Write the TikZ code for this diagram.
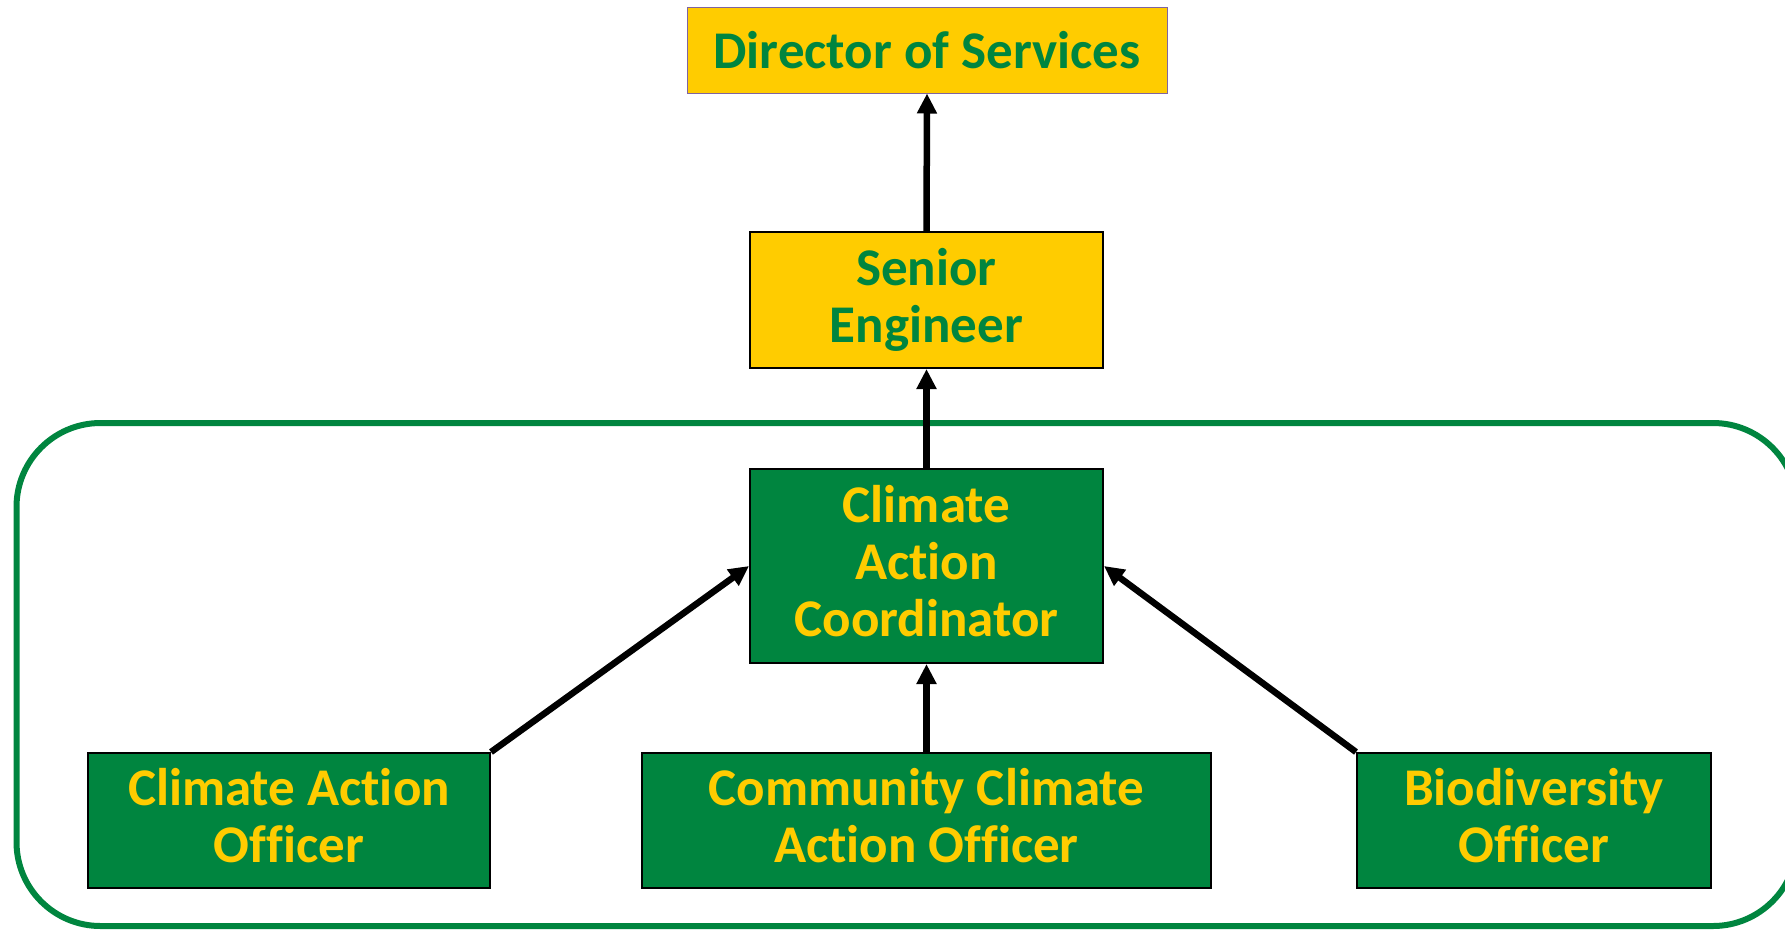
\documentclass[tikz,border=0pt]{standalone}
\usepackage{fontspec}
\setmainfont{Carlito}[Ligatures={NoCommon,NoRequired,NoContextual}]
\usetikzlibrary{arrows.meta}
\definecolor{ygold}{HTML}{FFCC00}
\definecolor{dgreen}{HTML}{00853F}
\definecolor{bpurple}{HTML}{7F64A0}
\newcommand{\lowstrut}{\rule[-10pt]{0pt}{10pt}}
\tikzset{
  boxbase/.style={rectangle, align=center, inner sep=0pt,
    font=\fontsize{53}{57}\selectfont\bfseries},
  ybox/.style={boxbase, fill=ygold, text=dgreen, draw=black, line width=2pt},
  gbox/.style={boxbase, fill=dgreen, text=ygold, draw=black, line width=2pt},
  arr/.style={line width=6.5pt, -{Triangle[length=20pt, width=19pt]}},
  frame/.style={draw=dgreen, line width=6pt, rounded corners=84pt}
}
\begin{document}
\begin{tikzpicture}[x=1pt, y=-1pt]
\useasboundingbox (0,0) rectangle (1785,930);
\clip (0,0) rectangle (1785,930);
\draw[frame] (16.5,423) rectangle (1797,926);
\node[ybox, draw=bpurple, line width=1pt, minimum width=480pt, minimum height=86pt] (dir) at (927,50) {Director of Services};
\node[ybox, minimum width=353pt, minimum height=136pt] (sen) at (926.5,300) {Senior\\Engineer};
\node[gbox, minimum width=353pt, minimum height=194pt] (coord) at (926.5,566) {Climate\\Action\\Coordinator\lowstrut};
\node[gbox, minimum width=402pt, minimum height=135pt] (cao) at (289,820.5) {Climate Action\\Officer\lowstrut};
\node[gbox, minimum width=569pt, minimum height=135pt] (ccao) at (926.5,820.5) {Community Climate\\Action Officer\lowstrut};
\node[gbox, minimum width=354pt, minimum height=135pt] (bio) at (1534,820.5) {Biodiversity\\Officer\lowstrut};
\draw[arr] (sen.north) -- (dir.south);
\draw[arr] (coord.north) -- (sen.south);
\draw[arr] (ccao.north) -- (coord.south);
\draw[arr] (cao.north east) -- (coord.west);
\draw[arr] (bio.north west) -- (coord.east);
\end{tikzpicture}
\end{document}
